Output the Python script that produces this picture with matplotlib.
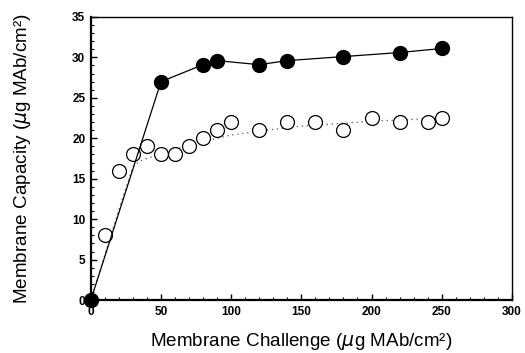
import numpy as np
import matplotlib.pyplot as plt
from matplotlib.ticker import MultipleLocator

# filled circles (solid line)
x_filled = [0, 50, 80, 90, 120, 140, 180, 220, 250]
y_filled = [0, 27.0, 29.1, 29.6, 29.1, 29.6, 30.1, 30.6, 31.1]

# open circles
x_open = [10, 20, 30, 40, 50, 60, 70, 80, 90, 100, 120, 140, 160, 180, 200, 220, 240, 250]
y_open = [8.0, 16.0, 18.0, 19.0, 18.0, 18.0, 19.0, 20.0, 21.0, 22.0, 21.0, 22.0, 22.0, 21.0, 22.5, 22.0, 22.0, 22.5]

# dotted fit curve
x_fit = [0, 10, 20, 30, 35, 40, 50, 75, 100, 125, 150, 200, 250]
y_fit = [0, 5.6, 11.2, 16.5, 17.2, 17.5, 18.1, 19.4, 20.4, 21.0, 21.5, 22.1, 22.5]

plt.rcParams['font.family'] = ['Liberation Sans', 'DejaVu Sans']

fig = plt.figure(figsize=(5.25, 3.53), dpi=100)
ax = fig.add_axes([0.173, 0.150, 0.802, 0.802])

ax.plot(x_fit, y_fit, ls=(0, (1, 3)), color='#555555', lw=0.9, zorder=1)
ax.plot(x_open, y_open, 'o', ms=10, mfc='white', mec='black', mew=0.9, ls='none', zorder=2)
ax.plot(x_filled, y_filled, 'o-', color='black', ms=10, lw=0.9, zorder=3, clip_on=False)

ax.set_xlim(0, 300)
ax.set_ylim(0, 35)
ax.xaxis.set_major_locator(MultipleLocator(50))
ax.xaxis.set_minor_locator(MultipleLocator(10))
ax.yaxis.set_major_locator(MultipleLocator(5))
ax.yaxis.set_minor_locator(MultipleLocator(1))
ax.tick_params(which='both', direction='in', top=False, right=False)
ax.tick_params(which='major', length=4, width=1, labelsize=8.5, pad=4)
ax.tick_params(which='minor', length=2, width=0.8)
for lab in ax.get_xticklabels() + ax.get_yticklabels():
    lab.set_fontweight('bold')
ax.spines['left'].set_linewidth(1.6)
ax.spines['bottom'].set_linewidth(1.6)
ax.spines['top'].set_linewidth(1.0)
ax.spines['right'].set_linewidth(1.0)

ax.set_xlabel('Membrane Challenge ($\\mu$g MAb/cm²)', fontsize=13.6, labelpad=10)
ax.set_ylabel('Membrane Capacity ($\\mu$g MAb/cm²)', fontsize=13.6, labelpad=28)

fig.savefig('out.png', dpi=100)
